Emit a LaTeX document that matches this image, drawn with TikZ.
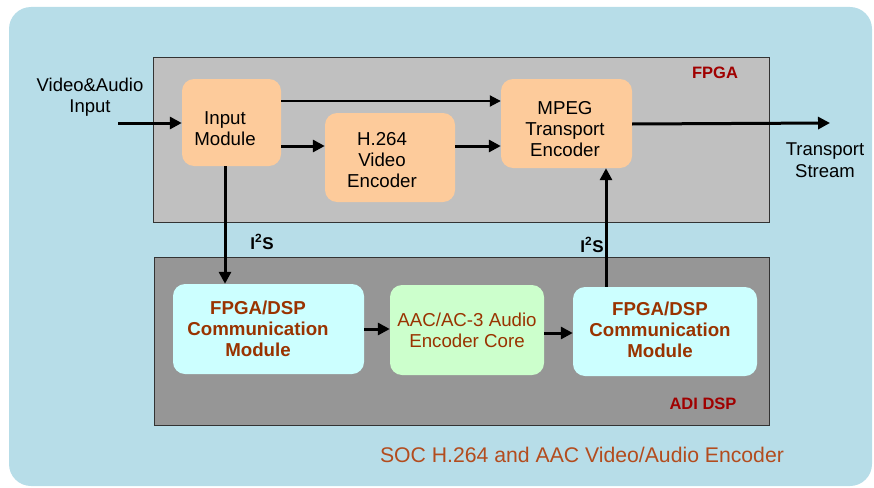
\documentclass[tikz,border=0pt]{standalone}
\usepackage{fontspec}
\setmainfont{Liberation Sans}
\usetikzlibrary{arrows.meta,positioning}
\definecolor{bgblue}{HTML}{B7DDE8}
\definecolor{fpgagray}{HTML}{C0C0C0}
\definecolor{dspgray}{HTML}{969696}
\definecolor{orangebox}{HTML}{FDCB9B}
\definecolor{cyanbox}{HTML}{CCFFFF}
\definecolor{greenbox}{HTML}{CCFFCC}
\definecolor{darkred}{HTML}{A00000}
\definecolor{brownred}{HTML}{993300}
\definecolor{titlecol}{HTML}{B34C1E}
\definecolor{edge}{HTML}{333333}
\tikzset{
  blk/.style={rectangle, rounded corners=12pt, inner sep=0pt, align=center,
    font=\fontsize{18.7}{21}\selectfont},
  orng/.style={blk, fill=orangebox},
  cyn/.style={blk, fill=cyanbox},
  grn/.style={blk, fill=greenbox, text=brownred},
  boxtext/.style={inner sep=0pt, align=center, font=\fontsize{18.7}{21}\selectfont},
  commtext/.style={boxtext, text=brownred, font=\fontsize{18.7}{21}\selectfont\bfseries},
  region/.style={rectangle, draw=edge, line width=1pt, inner sep=0pt},
  lbl/.style={inner sep=0pt, align=center, font=\fontsize{18.5}{21.5}\selectfont},
  reglbl/.style={inner sep=0pt, text=darkred, font=\fontsize{16.5}{20}\selectfont\bfseries},
  thick arrow/.style={line width=3pt, -{Triangle[length=12pt,width=12pt]}},
  thin arrow/.style={line width=2pt, -{Triangle[length=11pt,width=11pt]}},
}
\begin{document}
\begin{tikzpicture}[x=1pt,y=-1pt]
\useasboundingbox (0,0) rectangle (874,487);
\fill[bgblue, rounded corners=22pt] (9,7) rectangle (872,486);
% regions
\node[region, fill=fpgagray, minimum width=616pt, minimum height=165pt] (fpga) at (461,139.5) {};
\node[region, fill=dspgray, minimum width=615pt, minimum height=168pt] (dsp) at (461.5,341) {};
\node[reglbl] (fpgalbl) at (715,73) {FPGA};
\node[reglbl] (dsplbl) at (703,404) {ADI DSP};
% blocks
\node[orng, minimum width=99pt, minimum height=87pt] (in) at (231.5,122.5) {};
\node[boxtext] (intext) at (225,128.5) {Input\\Module};
\node[orng, minimum width=130pt, minimum height=89pt] (h) at (390,157.5) {};
\node[boxtext] (htext) at (382,160.5) {H.264\\Video\\Encoder};
\node[orng, minimum width=131pt, minimum height=89pt] (mp) at (566.5,123.5) {};
\node[boxtext] (mptext) at (565,129) {MPEG\\Transport\\Encoder};
\node[cyn, minimum width=191pt, minimum height=90pt] (lc) at (268.5,329) {};
\node[commtext] (lctext) at (258,329) {FPGA/DSP\\Communication\\Module};
\node[grn, minimum width=154pt, minimum height=90pt] (aac) at (467,330) {AAC/AC-3 Audio\\Encoder Core};
\node[cyn, minimum width=184pt, minimum height=89pt] (rc) at (665,331.5) {};
\node[commtext] (rctext) at (660,329.5) {FPGA/DSP\\Communication\\Module};
% outside labels
\node[lbl] (vin) at (90,97) {Video\&Audio\\Input};
\node[lbl] (ts) at (825,160) {Transport\\Stream};
\node[inner sep=0pt, font=\fontsize{17}{20}\selectfont\bfseries] (i2sa) at (262,242) {I\textsuperscript{2}S};
\node[inner sep=0pt, font=\fontsize{17}{20}\selectfont\bfseries] (i2sb) at (592,245) {I\textsuperscript{2}S};
\node[inner sep=0pt, text=titlecol, font=\fontsize{21.2}{24}\selectfont] (title) at (582,455) {SOC H.264 and AAC Video/Audio Encoder};
\coordinate (src) at (118,123);
\coordinate (out) at (830,123);
% connectors
\draw[thick arrow] (src) -- (src -| in.west);
\draw[thin arrow] ([yshift=21.5pt]in.east) -- ([yshift=21.5pt]in.east -| mp.west);
\draw[thick arrow] ([yshift=-23.5pt]in.east) -- ([yshift=-23.5pt]in.east -| h.west);
\draw[thick arrow] ([yshift=11.5pt]h.east) -- ([yshift=11.5pt]h.east -| mp.west);
\draw[thick arrow] ([yshift=-0.5pt]mp.east) -- (out);
\draw[thick arrow] ([xshift=-6.5pt]in.south) -- ([xshift=-6.5pt]in.south |- lc.north);
\draw[thick arrow] ([xshift=-59pt]rc.north) -- ([xshift=-59pt]rc.north |- mp.south);
\draw[thick arrow] (lc.east) -- (lc.east -| aac.west);
\draw[thick arrow] ([yshift=-3pt]aac.east) -- ([yshift=-3pt]aac.east -| rc.west);
\end{tikzpicture}
\end{document}
